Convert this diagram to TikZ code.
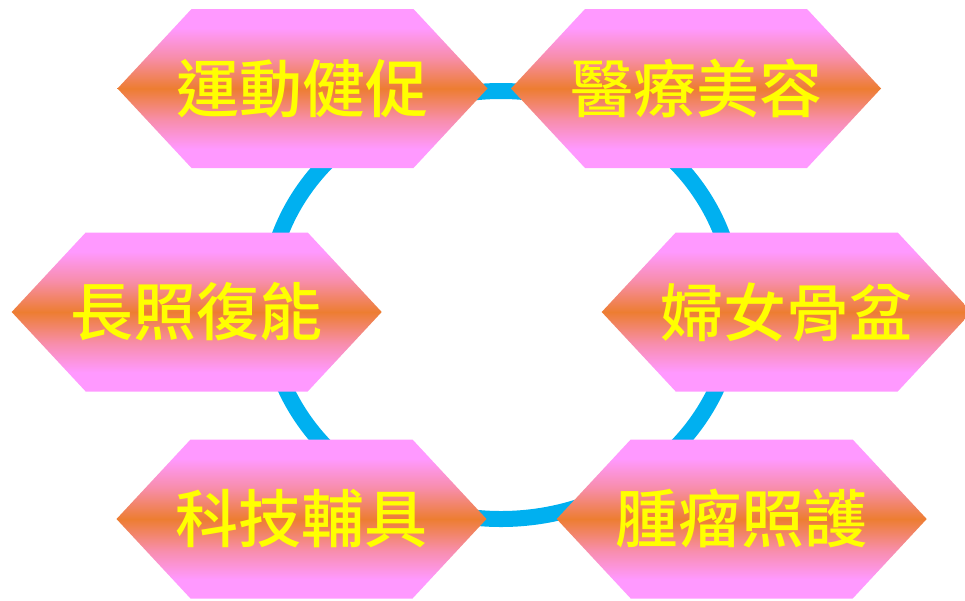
\documentclass[tikz,border=0pt]{standalone}
\usepackage{fontspec}
\newfontfamily\cjk{Noto Sans CJK TC Medium}
\definecolor{pk}{HTML}{FF99FF}
\definecolor{orng}{HTML}{ED7D31}
\definecolor{ringblue}{HTML}{00B0F0}
\definecolor{txtyellow}{HTML}{FFFF00}
\pgfdeclareverticalshading{hexshade}{100bp}{color(0bp)=(pk); color(25bp)=(pk); color(31bp)=(pk); color(40bp)=(pk!60!orng); color(50bp)=(orng); color(60bp)=(pk!60!orng); color(69bp)=(pk); color(75bp)=(pk); color(100bp)=(pk)}
\tikzset{
  hexlabel/.style={text=txtyellow, font=\cjk\fontsize{63}{70}\selectfont, inner sep=0pt, anchor=center},
  ringline/.style={draw=ringblue, line width=16pt},
}
\newcommand\hexbox[4]{%
  \begin{scope}[shift={(#1,#2)}]
    \path[shading=hexshade] (-185,0) -- (-111,-79.5) -- (111,-79.5) -- (185,0) -- (111,79.5) -- (-111,79.5) -- cycle;
    \node[hexlabel] (#3) at (0,0) {#4};
  \end{scope}}
\begin{document}
\begin{tikzpicture}[x=1pt,y=-1pt]
  \useasboundingbox (0,0) rectangle (965,600);
  \coordinate (c) at (501,305);
  \path[ringline] (c) ellipse [x radius=234pt, y radius=214pt];
  \hexbox{302.5}{88.5}{n1}{運動健促}
  \hexbox{696}{88.5}{n2}{醫療美容}
  \hexbox{196.7}{312}{n3}{長照復能}
  \hexbox{786.7}{312}{n4}{婦女骨盆}
  \hexbox{301.5}{519}{n5}{科技輔具}
  \hexbox{741.7}{519}{n6}{腫瘤照護}
\end{tikzpicture}
\end{document}
